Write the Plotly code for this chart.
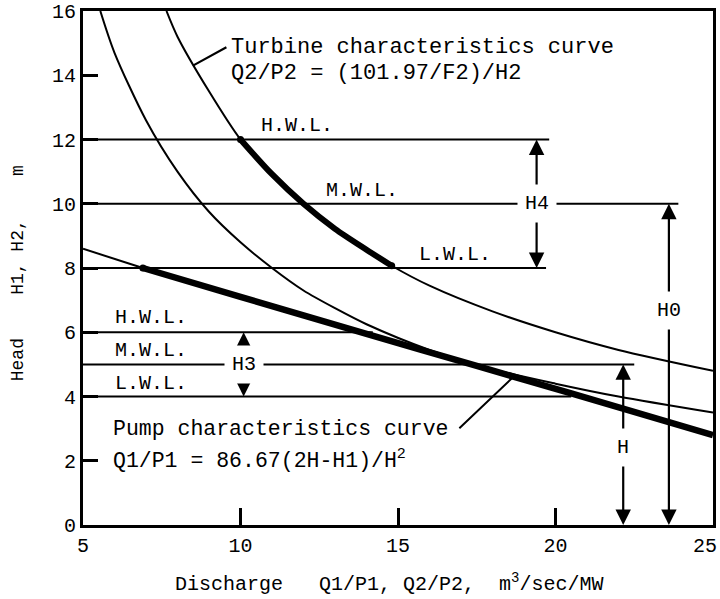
import plotly.graph_objects as go

FONT = "Liberation Mono"

# ---- data ----
# thin curve (inner)
curveA_q = [5.55, 6.0, 7.0, 8.0, 9.0, 10.0, 11.0, 12.0, 13.0, 14.0, 16.0, 18.0, 20.0, 22.0, 25.0]
curveA_h = [16.0, 14.7, 12.6, 11.0, 9.75, 8.8, 8.0, 7.3, 6.75, 6.25, 5.45, 4.85, 4.4, 4.0, 3.5]
# turbine characteristics curve (outer)
curveB_q = [7.65, 8.0, 9.0, 10.0, 11.0, 12.0, 13.0, 14.0, 14.8, 16.0, 18.0, 20.0, 22.0, 25.0]
curveB_h = [16.0, 15.2, 13.5, 12.0, 10.92, 10.0, 9.22, 8.57, 8.07, 7.45, 6.65, 6.0, 5.45, 4.8]
# operating segment of turbine curve (H.W.L. -> L.W.L.)
turb_op_q = [10.0, 11.0, 12.0, 13.0, 14.0, 14.8]
turb_op_h = [12.0, 10.92, 10.0, 9.22, 8.57, 8.07]
# pump characteristics curve
pump_q = [5.0, 6.9, 10.0, 14.0, 17.5, 20.5, 25.0]
pump_h = [8.6, 8.0, 7.1, 5.95, 4.95, 4.1, 2.8]
pump_thick_from = 1  # index where the heavy line starts

# water levels
turb_levels = [12, 10, 8]
turb_level_end = [19.8, 23.9, 19.7]
pump_levels = [6, 5, 4]
pump_level_end = [14.2, 22.5, 20.5]
level_names = ["H.W.L.", "M.W.L.", "L.W.L."]

x_ticks = [5, 10, 15, 20, 25]
x_ticktext = ["5", "10", "15", "20", "25"]
y_ticks = [0, 2, 4, 6, 8, 10, 12, 14, 16]

fig = go.Figure()

def line(q, h, w, name):
    fig.add_trace(go.Scatter(x=q, y=h, mode="lines", line=dict(color="black", width=w, shape="spline", smoothing=0.8),
                             hoverinfo="skip", showlegend=False, name=name))

# levels
for lv, e in zip(turb_levels, turb_level_end):
    fig.add_trace(go.Scatter(x=[5, e], y=[lv, lv], mode="lines", line=dict(color="black", width=2),
                             hoverinfo="skip", showlegend=False))
for lv, e in zip(pump_levels, pump_level_end):
    fig.add_trace(go.Scatter(x=[5, e], y=[lv, lv], mode="lines", line=dict(color="black", width=2),
                             hoverinfo="skip", showlegend=False))

line(curveA_q, curveA_h, 2, "curveA")
line(curveB_q, curveB_h, 2, "turbine")
line(pump_q[:pump_thick_from + 1], pump_h[:pump_thick_from + 1], 2, "pump thin")
line(pump_q[pump_thick_from:], pump_h[pump_thick_from:], 6.5, "pump")
line(turb_op_q, turb_op_h, 6, "turbine op")
# round ends
fig.add_trace(go.Scatter(x=[turb_op_q[0], turb_op_q[-1], pump_q[pump_thick_from]],
                         y=[turb_op_h[0], turb_op_h[-1], pump_h[pump_thick_from]],
                         mode="markers", marker=dict(color="black", size=7), hoverinfo="skip", showlegend=False))

ann = []
tf = dict(family=FONT, size=20, color="black")

# level labels
turb_lab_q = [11.8, 13.85, 16.8]
turb_lab_h = [12.45, 10.4, 8.42]
for n, q, h in zip(level_names, turb_lab_q, turb_lab_h):
    ann.append(dict(x=q, y=h, text=n, showarrow=False, font=tf, xanchor="center", yanchor="middle"))
pump_lab_q = [7.15, 7.15, 7.15]
pump_lab_h = [6.45, 5.42, 4.42]
for n, q, h in zip(level_names, pump_lab_q, pump_lab_h):
    ann.append(dict(x=q, y=h, text=n, showarrow=False, font=tf, xanchor="center", yanchor="middle"))

# dimension arrows: (q, bottom, top, label_h, label)
dims = [(19.4, 8, 12, 10.0, "H4"), (10.1, 4, 6, 5.0, "H3"), (23.6, 0, 10, 6.67, "H0"), (22.15, 0, 5, 2.4, "H")]
for q, lo, hi, lh, lab in dims:
    for tip in (lo, hi):
        ann.append(dict(x=q, y=tip, ax=q, ay=lh, axref="x", ayref="y", xref="x", yref="y", text="",
                        showarrow=True, arrowhead=2, arrowsize=1.4, arrowwidth=2.2, arrowcolor="black", standoff=0))
for q, lo, hi, lh, lab in dims:
    ann.append(dict(x=q, y=lh, text=lab, showarrow=False, font=tf, bgcolor="white", borderpad=7,
                    xanchor="center", yanchor="middle"))

# curve descriptions
big = dict(family=FONT, size=22, color="black")
ann.append(dict(x=9.65, y=14.87, text="Turbine characteristics curve", showarrow=False, font=big,
                xanchor="left", yanchor="middle"))
ann.append(dict(x=9.65, y=14.07, text="Q2/P2 = (101.97/F2)/H2", showarrow=False, font=big,
                xanchor="left", yanchor="middle"))
ann.append(dict(x=5.9, y=3.0, text="Pump characteristics curve", showarrow=False, font=dict(family=FONT, size=21.5, color="black"),
                xanchor="left", yanchor="middle"))
ann.append(dict(x=5.9, y=2.05, text="Q1/P1 = 86.67(2H-H1)/H<sup>2</sup>", showarrow=False, font=dict(family=FONT, size=21.5, color="black"),
                xanchor="left", yanchor="middle"))
# leaders
ann.append(dict(x=8.49, y=14.3, ax=9.6, ay=14.9, axref="x", ayref="y", text="", showarrow=True,
                arrowhead=0, arrowwidth=2.2, arrowcolor="black", standoff=0))
ann.append(dict(x=18.65, y=4.6, ax=16.9, ay=2.97, axref="x", ayref="y", text="", showarrow=True,
                arrowhead=0, arrowwidth=2, arrowcolor="black", standoff=0))

# last x tick label kept inside the page (right-aligned at the frame corner)
ann.append(dict(x=x_ticks[-1], xref="x", yref="paper", y=-0.041, text=x_ticktext[-1], showarrow=False,
                font=dict(family=FONT, size=20, color="black"), xanchor="right", xshift=6, yanchor="middle"))

# axis titles
ann.append(dict(xref="paper", yref="paper", x=0.486, y=-0.113, text="Discharge   Q1/P1, Q2/P2,  m<sup>3</sup>/sec/MW",
                showarrow=False, font=dict(family=FONT, size=20, color="black"), xanchor="center", yanchor="middle"))
ann.append(dict(xref="paper", yref="paper", x=-0.103, y=0.49, text="Head    H1, H2,    m", textangle=-90,
                showarrow=False, font=dict(family=FONT, size=18, color="black"), xanchor="center", yanchor="middle"))

fig.update_layout(
    width=720, height=599, margin=dict(l=83, r=7, t=11, b=74, autoexpand=False),
    paper_bgcolor="white", plot_bgcolor="white", annotations=ann, showlegend=False,
    xaxis=dict(range=[5, 25], tickvals=x_ticks[:-1], ticktext=x_ticktext[:-1], ticks="inside", ticklen=17,
               tickwidth=2.5, tickcolor="black", showline=True, linewidth=3, linecolor="black", mirror=True,
               showgrid=False, zeroline=False, automargin=False,
               tickfont=dict(family=FONT, size=20, color="black")),
    yaxis=dict(range=[0, 16], tickvals=y_ticks, ticktext=[str(v) for v in y_ticks], ticks="inside", ticklen=15,
               tickwidth=2.5, tickcolor="black", showline=True, linewidth=3, linecolor="black", mirror=True,
               showgrid=False, zeroline=False, automargin=False, ticklabeloverflow="allow",
               tickfont=dict(family=FONT, size=20, color="black")),
)

fig.write_html("out.html")
